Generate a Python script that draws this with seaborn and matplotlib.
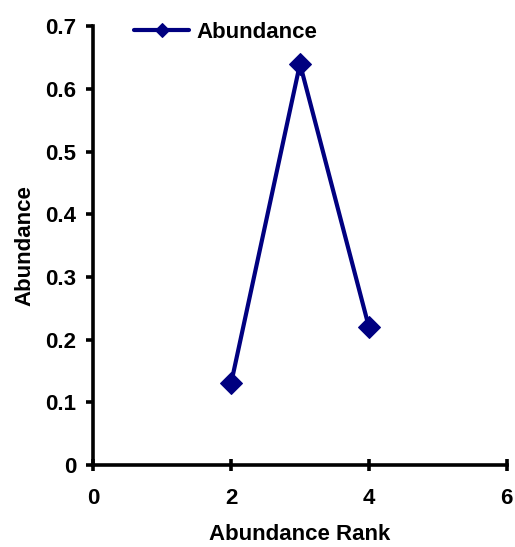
import matplotlib
matplotlib.use("Agg")
import matplotlib.pyplot as plt
import seaborn as sns
import pandas as pd

rank = [2, 3, 4]
abundance = [0.13, 0.64, 0.22]
series_name = "Abundance"
x_ticks = [0, 2, 4, 6]
y_ticks = [0, 0.1, 0.2, 0.3, 0.4, 0.5, 0.6, 0.7]

sns.set_style("ticks")
plt.rcParams['font.family'] = ['Liberation Sans', 'DejaVu Sans']
plt.rcParams['font.weight'] = 'bold'
plt.rcParams['text.color'] = 'black'
plt.rcParams['axes.labelcolor'] = 'black'
plt.rcParams['xtick.color'] = 'black'
plt.rcParams['ytick.color'] = 'black'

df = pd.DataFrame({"Abundance Rank": rank, "Abundance": abundance, "series": series_name})

fig = plt.figure(figsize=(5.15, 5.47), dpi=100)
ax = fig.add_axes([0.181, 0.150, 0.803, 0.802])
navy = "#000080"
sns.lineplot(data=df, x="Abundance Rank", y="Abundance", hue="series",
             palette=[navy], marker="D", markersize=11, linewidth=3,
             markeredgecolor=navy, ax=ax)

ax.set_xlim(0, 6)
ax.set_ylim(0, 0.7)
ax.set_xticks(x_ticks)
ax.set_xticklabels([f"{t:g}" for t in x_ticks])
ax.set_yticks(y_ticks)
ax.set_yticklabels([f"{t:g}" for t in y_ticks])
for s in ["top", "right"]:
    ax.spines[s].set_visible(False)
for s in ["left", "bottom"]:
    ax.spines[s].set_linewidth(2.6)
    ax.spines[s].set_color("black")
ax.tick_params(axis="y", direction="out", length=5, width=2.6, labelsize=16, pad=7,
               colors="black")
ax.tick_params(axis="x", direction="inout", length=9, width=2.6, labelsize=16, pad=12,
               colors="black")
for lab in ax.get_xticklabels() + ax.get_yticklabels():
    lab.set_fontweight("bold")
ax.set_xlabel("Abundance Rank", fontsize=16, fontweight="bold", labelpad=11, color="black")
ax.set_ylabel("Abundance", fontsize=16, fontweight="bold", labelpad=7, color="black")

leg = ax.legend(loc="upper left", bbox_to_anchor=(0.05, 1.055), frameon=False,
                fontsize=16, handlelength=2.5, handletextpad=0.3, markerscale=0.65)
for t in leg.get_texts():
    t.set_fontweight("bold")
    t.set_color("black")

fig.savefig("out.png", dpi=100)
